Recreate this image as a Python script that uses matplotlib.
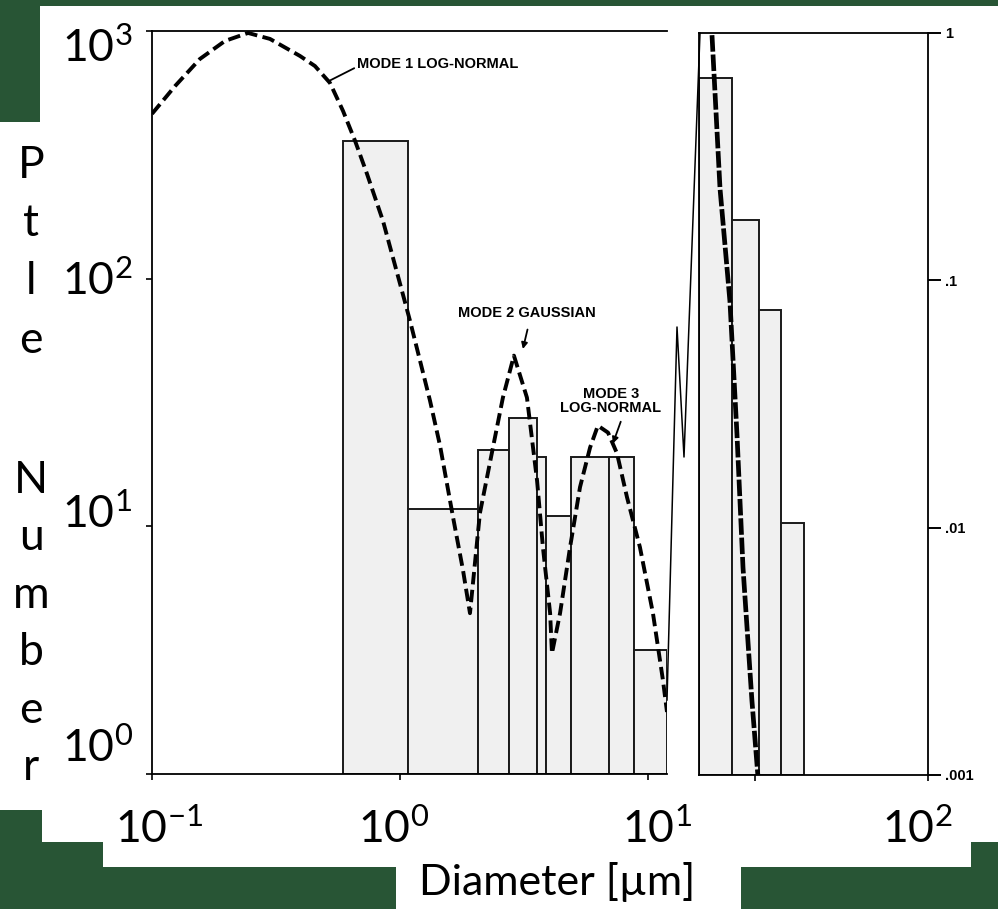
import numpy as np
import matplotlib
matplotlib.use("Agg")
import matplotlib.pyplot as plt
from matplotlib.patches import Polygon
from matplotlib.lines import Line2D

W, H = 998, 909

# --- data ---
# left panel: particle number (1 .. 1000)
left_edges = [0.59, 1.08, 2.06, 2.75, 3.57, 3.88, 4.89, 6.96, 8.78, 11.9]
left_counts = [360, 11.8, 20.4, 27.3, 19.0, 11.0, 19.0, 19.0, 3.16]

# right panel: particle number (.001 .. 1)
right_edges = [11.9, 16.2, 20.8, 25.5, 31.6]
right_counts = [0.66, 0.175, 0.076, 0.0104]

# fitted modes (dashed curve)
fit_left_d = [0.1, 0.124, 0.156, 0.197, 0.244, 0.299, 0.395, 0.454, 0.522, 0.589, 0.659, 0.736,
              0.854, 1.0, 1.097, 1.204, 1.321, 1.45, 1.636, 1.795, 1.915,
              2.10, 2.37, 2.60, 2.88, 3.25, 3.57, 3.77, 4.03, 4.10,
              4.42, 4.85, 5.32, 5.84, 6.28, 6.90, 7.50, 8.23, 9.28, 10.47, 11.49, 11.93]
fit_left_n = [463, 600, 771, 912, 982, 929, 793, 722, 617, 476, 360, 265,
              171, 95.5, 67.7, 46.7, 32.2, 21.2, 10.9, 6.65, 4.46,
              11.3, 20.8, 33.1, 48.9, 33.1, 15.3, 8.23, 4.46, 3.07,
              4.46, 8.23, 14.4, 20.8, 25.5, 23.9, 19.7, 13.1, 8.23, 4.46, 2.39, 1.78]
fit_right_d = [13.46, 14.5, 15.9, 16.97, 17.95, 19.5, 20.6]
fit_right_n = [0.98, 0.235, 0.0822, 0.0239, 0.0069, 0.002, 0.001]


def fx(px):
    return px / W


def fy(py):
    return 1 - py / H


fig = plt.figure(figsize=(W / 100, H / 100), dpi=100)
fig.patch.set_facecolor('#285535')

# white slide area
white = [(40, 6), (998, 6), (998, 842), (971, 842), (971, 867), (741, 867),
         (741, 909), (396, 909), (396, 867), (103, 867), (103, 842), (42, 842),
         (42, 810), (0, 810), (0, 122), (40, 122)]
fig.add_artist(Polygon([(fx(x), fy(y)) for x, y in white], closed=True,
                       transform=fig.transFigure, facecolor='white',
                       edgecolor='none', zorder=-10))

bar_fill = '#f0f0f0'

# left panel
ax = fig.add_axes([fx(152), fy(774), fx(667) - fx(152), fy(31) - fy(774)])
ax.set_zorder(2)
ax.set_facecolor('none')
ax.set_xscale('log')
ax.set_yscale('log')
ax.set_xlim(0.1, 11.93)
ax.set_ylim(1, 1000)
widths = np.diff(left_edges)
ax.bar(left_edges[:-1], np.array(left_counts) - 1, width=widths, bottom=1,
       align='edge', color=bar_fill, edgecolor='#1a1a1a', linewidth=1.4)
ax.plot(fit_left_d, fit_left_n, color='black', lw=2.8, dashes=(3.2, 1.4))
ax.spines['right'].set_visible(False)
for s in ['left', 'top', 'bottom']:
    ax.spines[s].set_linewidth(1.3)
ax.minorticks_off()
ax.set_xticks([0.1, 1, 10])
ax.set_yticks([1, 10, 100, 1000])
ax.set_xticklabels([])
ax.set_yticklabels([])
ax.tick_params(direction='out', length=4, width=1.2)

lab = dict(fontfamily='Liberation Sans', fontweight='bold', fontsize=10.5)
ax.annotate('MODE 1 LOG-NORMAL', xy=(0.52, 630), xytext=(fx(357), fy(68)),
            textcoords='figure fraction', va='baseline',
            arrowprops=dict(arrowstyle='-', lw=1.3, color='black', shrinkA=0, shrinkB=0,
                            relpos=(0, 0.3)), **lab)
ax.annotate('MODE 2 GAUSSIAN', xy=(3.13, 52), xytext=(fx(527), fy(313)),
            textcoords='figure fraction', ha='center', va='center',
            arrowprops=dict(arrowstyle='-|>', lw=1.3, color='black', mutation_scale=9,
                            shrinkA=5, shrinkB=0, relpos=(0.52, 0)), **lab)
ax.annotate('MODE 3\nLOG-NORMAL', xy=(7.22, 21.6), xytext=(fx(611), fy(401)),
            textcoords='figure fraction', ha='center', va='center', linespacing=1.0,
            arrowprops=dict(arrowstyle='-|>', lw=1.3, color='black', mutation_scale=9,
                            shrinkA=3, shrinkB=0, relpos=(0.62, 0)), **lab)

# right panel
ax2 = fig.add_axes([fx(699), fy(775), fx(928) - fx(699), fy(33) - fy(775)])
ax2.set_zorder(2)
ax2.set_facecolor('none')
ax2.set_xscale('log')
ax2.set_yscale('log')
ax2.set_xlim(11.93, 100)
ax2.set_ylim(0.001, 1)
widths2 = np.diff(right_edges)
ax2.bar(right_edges[:-1], np.array(right_counts) - 0.001, width=widths2, bottom=0.001,
        align='edge', color=bar_fill, edgecolor='#1a1a1a', linewidth=1.4)
ax2.plot(fit_right_d, fit_right_n, color='black', lw=3.4, dashes=(3.5, 0.6))
for s in ax2.spines.values():
    s.set_linewidth(1.3)
ax2.minorticks_off()
ax2.yaxis.tick_right()
ax2.set_xticks([20, 100])
ax2.set_xticklabels([])
ax2.set_yticks([0.001, 0.01, 0.1, 1])
ax2.set_yticklabels(['.001', '.01', '.1', '1'], fontfamily='Liberation Sans',
                    fontweight='bold', fontsize=10.5)
ax2.tick_params(axis='x', direction='out', length=4, width=1.2)
ax2.tick_params(axis='y', direction='out', length=9, width=1.4, pad=3)

# axis break zigzag
zig = [(667, 700), (677, 327), (684, 457), (700, 33)]
fig.add_artist(Line2D([fx(x) for x, y in zig], [fy(y) for x, y in zig],
                      transform=fig.transFigure, color='black', lw=1.1))

# slide overlay labels
big = dict(fontfamily='Lato', fontsize=32, color='black', va='baseline')
for txt, yb in [('3', 62), ('2', 295), ('1', 528), ('0', 762)]:
    fig.text(fx(62), fy(yb), r'$\mathregular{10^{%s}}$' % txt, ha='left', **big)
for txt, xc in [('-1', 159), ('0', 394), ('1', 657), ('2', 917)]:
    fig.text(fx(xc), fy(843), r'$\mathregular{10^{%s}}$' % txt, ha='center', **big)
fig.text(fx(557), fy(895), 'Diameter [µm]', ha='center',
         **dict(big, fontsize=31))

for i, ch in enumerate('Ptle'):
    fig.text(fx(31), fy(178 + 58.2 * i), ch, ha='center', **big)
for i, ch in enumerate('Number'):
    fig.text(fx(31), fy(493 + 57.4 * i), ch, ha='center', **big)

fig.savefig('out.png', dpi=100, facecolor=fig.get_facecolor())
